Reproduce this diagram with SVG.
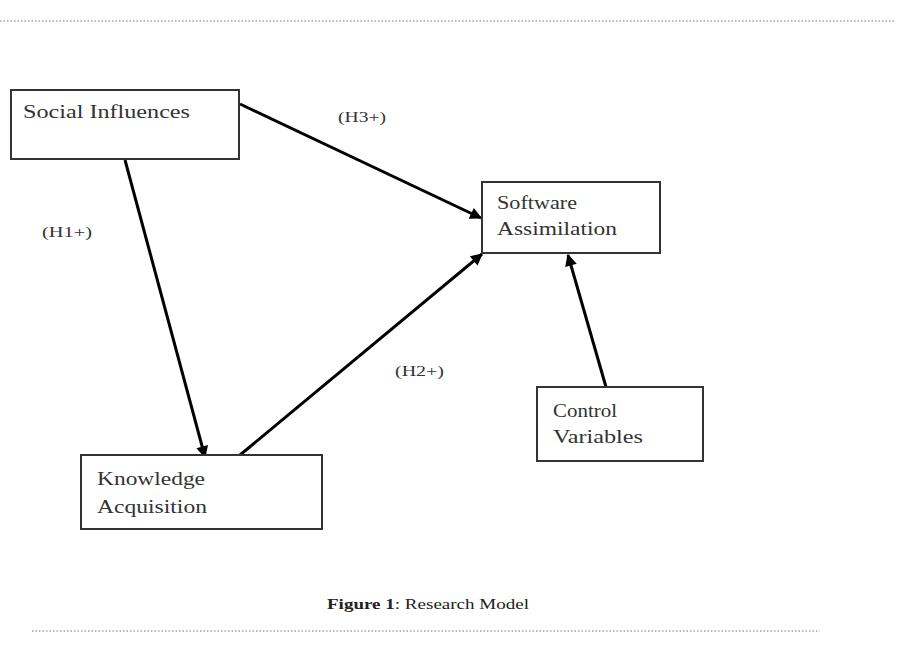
<svg xmlns="http://www.w3.org/2000/svg" width="898" height="662" viewBox="0 0 898 662">
<style>
.box{fill:#ffffff;stroke:#333333;stroke-width:2}
.t{font-family:"Liberation Serif","Times New Roman",serif;font-size:19px;fill:#333333}
.lbl{font-family:"Liberation Serif","Times New Roman",serif;font-size:14px;fill:#333333}
.cap{font-family:"Liberation Serif","Times New Roman",serif;font-size:14px;fill:#222222}
.edge{stroke:#000000;stroke-width:3;fill:none;marker-end:url(#ah)}
.dots{stroke:#777777;stroke-width:1.2;stroke-dasharray:1.5 2;fill:none}
</style>
<defs>
<marker id="ah" viewBox="0 0 10 10" refX="9" refY="5" markerWidth="5" markerHeight="4" markerUnits="strokeWidth" orient="auto">
<path d="M0,0 L10,5 L0,10 Z" fill="#000000"/>
</marker>
</defs>
<rect width="898" height="662" fill="#ffffff"/>
<line class="dots" x1="0" y1="21" x2="895" y2="21"/>
<line class="dots" x1="32" y1="631" x2="820" y2="631"/>
<g id="connectors">
<line class="edge" x1="240" y1="104" x2="481" y2="218"/>
<line class="edge" x1="125" y1="160" x2="205" y2="457"/>
<line class="edge" x1="240" y1="455" x2="482" y2="254"/>
<line class="edge" x1="606" y1="387" x2="568" y2="255"/>
</g>
<g id="social-influences">
<rect class="box" x="11" y="90" width="228" height="69"/>
<text class="t" x="23" y="118" textLength="167" lengthAdjust="spacingAndGlyphs">Social Influences</text>
</g>
<g id="software-assimilation">
<rect class="box" x="482" y="182" width="178" height="71"/>
<text class="t" x="497" y="209" textLength="80" lengthAdjust="spacingAndGlyphs">Software</text>
<text class="t" x="497" y="235" textLength="120" lengthAdjust="spacingAndGlyphs">Assimilation</text>
</g>
<g id="control-variables">
<rect class="box" x="537" y="387" width="166" height="74"/>
<text class="t" x="553" y="417" textLength="64" lengthAdjust="spacingAndGlyphs">Control</text>
<text class="t" x="553" y="443" textLength="90" lengthAdjust="spacingAndGlyphs">Variables</text>
</g>
<g id="knowledge-acquisition">
<rect class="box" x="81" y="455" width="241" height="74"/>
<text class="t" x="97" y="485" textLength="108" lengthAdjust="spacingAndGlyphs">Knowledge</text>
<text class="t" x="97" y="513" textLength="110" lengthAdjust="spacingAndGlyphs">Acquisition</text>
</g>
<g id="labels">
<text class="lbl" x="338" y="122" textLength="48" lengthAdjust="spacingAndGlyphs">(H3+)</text>
<text class="lbl" x="42" y="237" textLength="50" lengthAdjust="spacingAndGlyphs">(H1+)</text>
<text class="lbl" x="395" y="376" textLength="49" lengthAdjust="spacingAndGlyphs">(H2+)</text>
</g>
<text class="cap" x="327" y="609" textLength="202" lengthAdjust="spacingAndGlyphs"><tspan font-weight="bold">Figure 1</tspan>: Research Model</text>
</svg>
